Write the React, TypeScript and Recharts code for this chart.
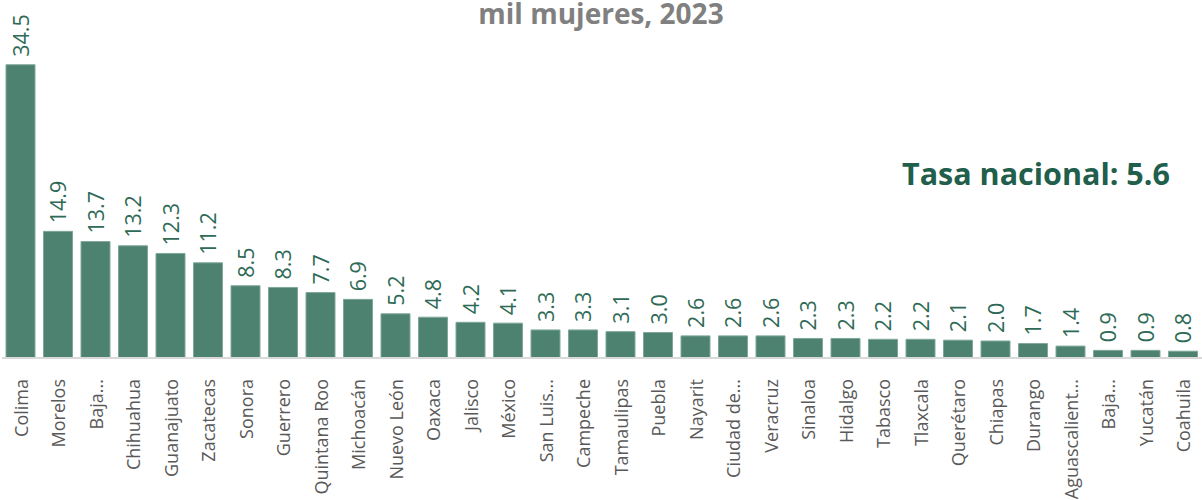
import { BarChart, Bar, XAxis, YAxis, LabelList } from 'recharts';

const states = [
  'Colima', 'Morelos', 'Baja...', 'Chihuahua', 'Guanajuato', 'Zacatecas', 'Sonora', 'Guerrero',
  'Quintana Roo', 'Michoacán', 'Nuevo León', 'Oaxaca', 'Jalisco', 'México', 'San Luis...', 'Campeche',
  'Tamaulipas', 'Puebla', 'Nayarit', 'Ciudad de...', 'Veracruz', 'Sinaloa', 'Hidalgo', 'Tabasco',
  'Tlaxcala', 'Querétaro', 'Chiapas', 'Durango', 'Aguascalient...', 'Baja...', 'Yucatán', 'Coahuila',
];
const rates = [
  34.5, 14.9, 13.7, 13.2, 12.3, 11.2, 8.5, 8.3,
  7.7, 6.9, 5.2, 4.8, 4.2, 4.1, 3.3, 3.3,
  3.1, 3.0, 2.6, 2.6, 2.6, 2.3, 2.3, 2.2,
  2.2, 2.1, 2.0, 1.7, 1.4, 0.9, 0.9, 0.8,
];
const nationalRate = 5.6;

const data = states.map((name, i) => ({ id: i, name, value: rates[i] }));

const FONT = '"Open Sans", sans-serif';

const StateTick = (props: any) => {
  const { x, y, payload } = props;
  return (
    <text
      x={x}
      y={y + 13}
      transform={`rotate(-90, ${x}, ${y + 13})`}
      textAnchor="end"
      dominantBaseline="central"
      fontFamily={FONT}
      fontSize={18}
      fill="#595959"
    >
      {states[payload.index] ?? payload.value}
    </text>
  );
};

const ValueLabel = (props: any) => {
  const { x, y, width, value } = props;
  const cx = x + width / 2;
  const ty = y - 8;
  return (
    <text
      x={cx}
      y={ty}
      transform={`rotate(-90, ${cx}, ${ty})`}
      textAnchor="start"
      dominantBaseline="central"
      fontFamily={FONT}
      fontSize={21.5}
      fill="#2e6a56"
    >
      {Number(value).toFixed(1)}
    </text>
  );
};

export default function App() {
  return (
    <div style={{ position: 'absolute', left: 0, top: 0, width: 1202, height: 500, background: '#fff' }}>
      <div
        style={{
          position: 'absolute', left: 0, width: 1202, top: 0, textAlign: 'center',
          fontFamily: FONT, fontWeight: 700, fontSize: 28, color: '#808080', lineHeight: '26px',
        }}
      >
        mil mujeres, 2023
      </div>
      <div
        style={{
          position: 'absolute', left: 902, top: 153, fontFamily: FONT, fontWeight: 700,
          fontSize: 30.5, color: '#215e4b', lineHeight: '40px', whiteSpace: 'nowrap',
        }}
      >
        Tasa nacional: {nationalRate.toFixed(1)}
      </div>
      <BarChart width={1202} height={500} data={data} margin={{ top: 18, right: 0, left: 2, bottom: 0 }}>
        <XAxis
          dataKey="id"
          interval={0}
          height={142}
          tickLine={false}
          axisLine={{ stroke: '#d9d9d9', strokeWidth: 2 }}
          tick={<StateTick />}
        />
        <YAxis hide domain={[0, 40]} />
        <Bar dataKey="value" barSize={29} fill="#4e8270" stroke="#7fa898" strokeWidth={1} isAnimationActive={false}>
          <LabelList dataKey="value" content={<ValueLabel />} />
        </Bar>
      </BarChart>
    </div>
  );
}
